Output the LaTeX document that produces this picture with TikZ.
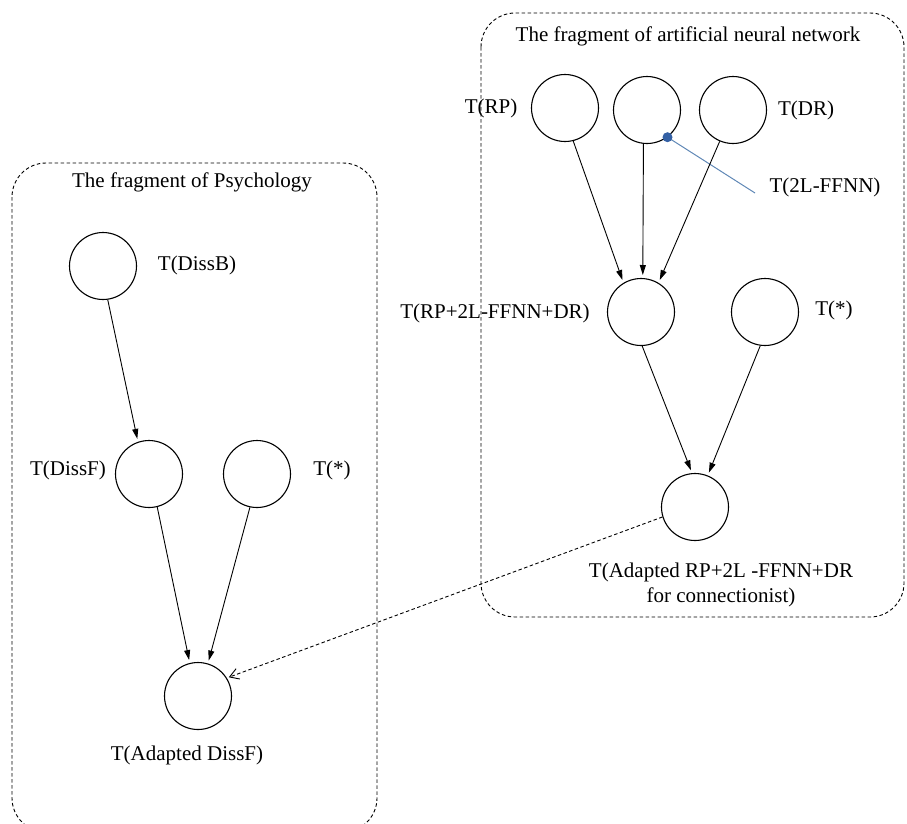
\documentclass[tikz,border=0pt]{standalone}
\usepackage{fontspec}
\setmainfont{Liberation Serif}
\usetikzlibrary{positioning,arrows.meta}
\definecolor{linkblue}{RGB}{96,136,182}
\definecolor{dotblue}{RGB}{52,96,164}

\begin{document}
\begin{tikzpicture}[x=1pt, y=-1pt,
  every node/.style={align=center, font=\fontsize{21}{25}\selectfont},
  unit/.style={circle, draw, line width=1.1pt, minimum size=67pt, inner sep=0pt},
  frag/.style={draw, dash pattern=on 3.5pt off 2.5pt, line width=0.9pt, rounded corners=34pt},
  arr/.style={-{Triangle[length=10pt,width=6pt]}, line width=0.9pt, shorten >=3pt},
  arrmap/.style={-{Straight Barb[length=9pt,width=11pt]}, dash pattern=on 3.5pt off 2.5pt, line width=0.9pt, shorten >=2pt},
  link/.style={linkblue, line width=1pt}
]
\useasboundingbox (0,0) rectangle (907,823);
% Fragment boxes
\draw[frag] (12,163) rectangle (377,832);
\draw[frag] (481,13) rectangle (904,617);
\node (tpsy) at (192,182) {The fragment of Psychology};
\node (tann) at (688,36) {The fragment of artificial neural network};
% Psychology: units
\node[unit] (dissb) at (103,266) {};
\node[unit] (dissf) at (149,474) {};
\node[unit] (starl) at (257,474) {};
\node[unit] (adissf) at (198,696) {};
\node (ldissb) at (197,265) {T(DissB)};
\node (ldissf) at (68,470) {T(DissF)};
\node (lstarl) at (332,470) {T(*)};
\node (ladissf) at (187,755) {T(Adapted DissF)};
% Neural network: units
\node[unit] (rp) at (565,108) {};
\node[unit] (ffnn) at (647,110) {};
\node[unit] (dr) at (733,110) {};
\node[unit] (comb) at (641,312) {};
\node[unit] (starr) at (765,312) {};
\node[unit] (adapt) at (695,507) {};
\node (lrp) at (491,108) {T(RP)};
\node (ldr) at (806,110) {T(DR)};
\node (lffnn) at (825,187) {T(2L-FFNN)};
\node (lcomb) at (495,313) {T(RP+2L-FFNN+DR)};
\node (lstarr) at (834,310) {T(*)};
\node (ladapt) at (721,585) {T(Adapted RP+2L -FFNN+DR\\for connectionist)};
% Pointer to the hidden-layer unit
\coordinate (ffnnend) at (755,193);
\draw[link] (ffnn.-53) -- (ffnnend);
\fill[dotblue] (ffnn.-53) circle (5pt);
% Arrows
\draw[arr] (dissb.-82) -- (dissf.109);
\draw[arr] (dissf.-76) -- (adissf.104);
\draw[arr] (starl.-102) -- (adissf.73);
\draw[arr] (rp.-76) -- (comb.121);
\draw[arr] (ffnn.-96) -- (comb.87);
\draw[arr] (dr.-113) -- (comb.59);
\draw[arr] (comb.-88) -- (adapt.95);
\draw[arr] (starr.-98) -- (adapt.68);
\draw[arrmap] (adapt.197) -- (adissf.32);
\end{tikzpicture}
\end{document}
